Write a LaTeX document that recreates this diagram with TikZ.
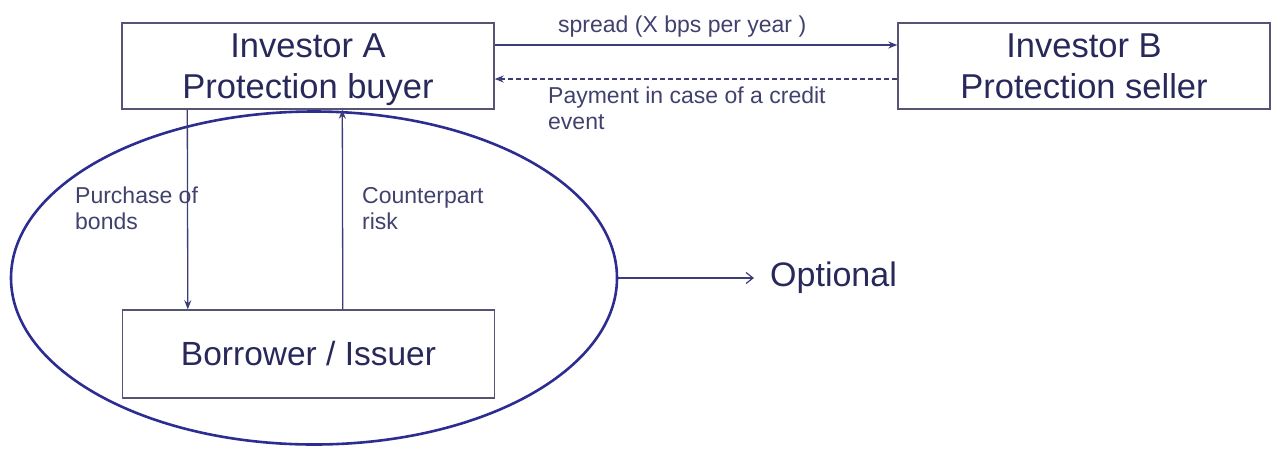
\documentclass[tikz,border=0pt]{standalone}
\usepackage{fontspec}
\setmainfont{Liberation Sans}
\usetikzlibrary{arrows.meta,shapes.geometric,calc}
\definecolor{txt}{RGB}{40,40,90}
\definecolor{stxt}{RGB}{65,65,110}
\definecolor{boxline}{RGB}{85,85,115}
\definecolor{ell}{RGB}{45,45,145}
\definecolor{arr}{RGB}{60,60,120}
\newcommand\mytopstrut{\rule{0pt}{31pt}}
\newcommand\mybotstrut{\rule[-8pt]{0pt}{8pt}}
\tikzset{
  x=1pt, y=-1pt,
  bigbox/.style={draw=boxline, line width=1.4pt, minimum width=372pt, minimum height=86pt, inner sep=0pt,
     text=txt, align=center, font=\fontsize{34.5}{41}\selectfont},
  small/.style={text=stxt, align=left, inner sep=0pt, font=\fontsize{23}{26}\selectfont},
  conn/.style={draw=arr, line width=1.3pt, -{Stealth[length=9pt,width=7pt]}},
}
\begin{document}
\begin{tikzpicture}
\useasboundingbox (0,0) rectangle (1272,448);
\node[bigbox] (A) at (308,66) {\mytopstrut Investor A\\Protection buyer\mybotstrut};
\node[bigbox] (B) at (1084,66) {\mytopstrut Investor B\\Protection seller\mybotstrut};
\node[bigbox, minimum height=88pt, font=\fontsize{33.5}{40}\selectfont] (C) at (308.5,354) {Borrower / Issuer};
\node[draw=ell, line width=2.6pt, ellipse, minimum width=606pt, minimum height=333pt, inner sep=0pt] (E) at (314,278) {};
\node[anchor=west, text=txt, inner sep=0pt, font=\fontsize{34}{40}\selectfont] (O) at (770,278) {Optional};
\draw[draw=arr, line width=1.2pt, -{Straight Barb[length=7pt,width=11pt]}] (E.east) -- ([xshift=-16pt]O.west);
\draw[conn] ([yshift=21pt]A.east) -- ([yshift=21pt]B.west);
\draw[conn, dashed, dash pattern=on 5pt off 3pt] ([yshift=-13pt]B.west) -- ([yshift=-13pt]A.east);
\draw[conn] ([xshift=66pt]A.south west) -- ([xshift=66pt]C.north west);
\draw[conn] ([xshift=221pt]C.north west) -- ([xshift=221pt]A.south west);
\node[small, anchor=west] (s1) at (558,27) {spread (X bps per year )};
\node[small, anchor=north west] (s2) at (548,87) {Payment in case of a credit\\event};
\node[small, anchor=north west] (s3) at (75,187) {Purchase of\\bonds};
\node[small, anchor=north west] (s4) at (362,187) {Counterpart\\risk};
\end{tikzpicture}
\end{document}
